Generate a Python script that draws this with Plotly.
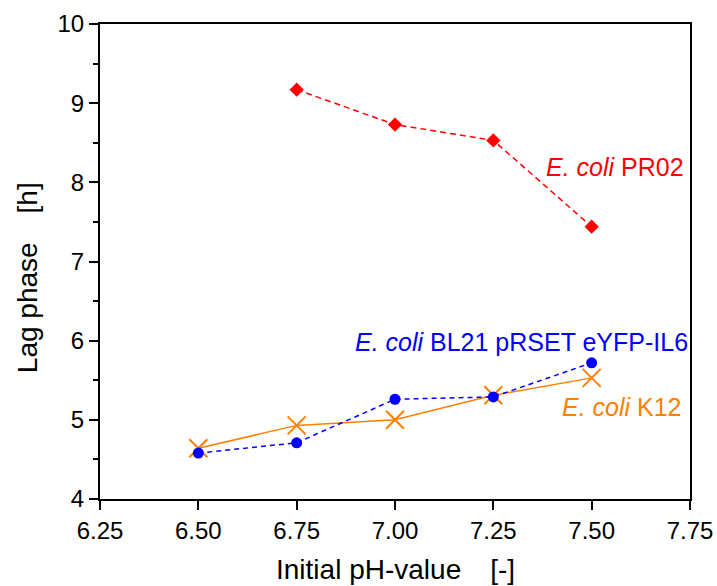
import plotly.graph_objects as go

ph = [6.50, 6.75, 7.00, 7.25, 7.50]
ph_pr02 = [6.75, 7.00, 7.25, 7.50]
lag_pr02 = [9.17, 8.73, 8.53, 7.44]
lag_bl21 = [4.58, 4.71, 5.26, 5.29, 5.72]
lag_k12 = [4.64, 4.93, 5.00, 5.31, 5.53]

x_ticks = [6.25, 6.50, 6.75, 7.00, 7.25, 7.50, 7.75]

RED = "#ff0000"
BLUE = "#0000ff"
ORANGE = "#ff7f00"
FONT = "Liberation Sans, Arial, sans-serif"
GAP = "\u00a0\u00a0\u00a0\u2009"

fig = go.Figure()
fig.add_trace(go.Scatter(
    x=ph, y=lag_k12, mode="lines+markers", name="E. coli K12",
    line=dict(color=ORANGE, width=1.5),
    marker=dict(symbol="x-thin", size=18, line=dict(color=ORANGE, width=2), color=ORANGE),
))
fig.add_trace(go.Scatter(
    x=ph, y=lag_bl21, mode="lines+markers", name="E. coli BL21 pRSET eYFP-IL6",
    line=dict(color=BLUE, width=1.5, dash="5px,4px"),
    marker=dict(symbol="circle", size=11, color=BLUE),
))
fig.add_trace(go.Scatter(
    x=ph_pr02, y=lag_pr02, mode="lines+markers", name="E. coli PR02",
    line=dict(color=RED, width=1.5, dash="6px,4px"),
    marker=dict(symbol="diamond", size=11, color=RED),
))

annos = [
    dict(text="<i>E. coli</i> PR02", y=8.20, shift=-4, color=RED),
    dict(text="<i>E. coli</i> BL21 pRSET eYFP-IL6", y=5.98, shift=0, color=BLUE),
    dict(text="<i>E. coli</i> K12", y=5.16, shift=-6, color=ORANGE),
]
for a in annos:
    fig.add_annotation(text=a["text"], x=7.75, xshift=a["shift"], y=a["y"], xref="x", yref="y",
                       xanchor="right", yanchor="middle", showarrow=False,
                       font=dict(family=FONT, size=25, color=a["color"]))

fig.add_annotation(text="Initial pH-value" + GAP + "[-]", xref="paper", yref="paper",
                   x=0.5, y=0, yshift=-70, xanchor="center", yanchor="middle",
                   showarrow=False, font=dict(family=FONT, size=28, color="black"))
fig.add_annotation(text="Lag phase" + GAP + "[h]", xref="paper", yref="paper",
                   x=0, xshift=-72.5, y=0.466, xanchor="center", yanchor="middle",
                   textangle=-90, showarrow=False,
                   font=dict(family=FONT, size=28, color="black"))

fig.update_layout(
    width=717, height=586, autosize=False,
    margin=dict(l=100, r=27, t=24, b=87, pad=0, autoexpand=False),
    paper_bgcolor="white", plot_bgcolor="white",
    showlegend=False,
    font=dict(family=FONT, size=24, color="black"),
)
fig.update_xaxes(
    range=[6.25, 7.75], tickvals=x_ticks, tickformat=".2f",
    showline=True, linecolor="black", linewidth=2, mirror=True,
    ticks="outside", ticklen=9, tickwidth=2, tickcolor="black",
    showgrid=False, zeroline=False, automargin=False,
    tickfont=dict(family=FONT, size=24, color="black"),
)
fig.update_yaxes(
    range=[4, 10], dtick=1, tick0=4,
    showline=True, linecolor="black", linewidth=2, mirror=True,
    ticks="outside", ticklen=9, tickwidth=2, tickcolor="black",
    minor=dict(dtick=0.5, ticks="outside", ticklen=5, tickwidth=2, tickcolor="black", showgrid=False),
    showgrid=False, zeroline=False, automargin=False,
    tickfont=dict(family=FONT, size=24, color="black"),
)

fig.write_html("out.html")
